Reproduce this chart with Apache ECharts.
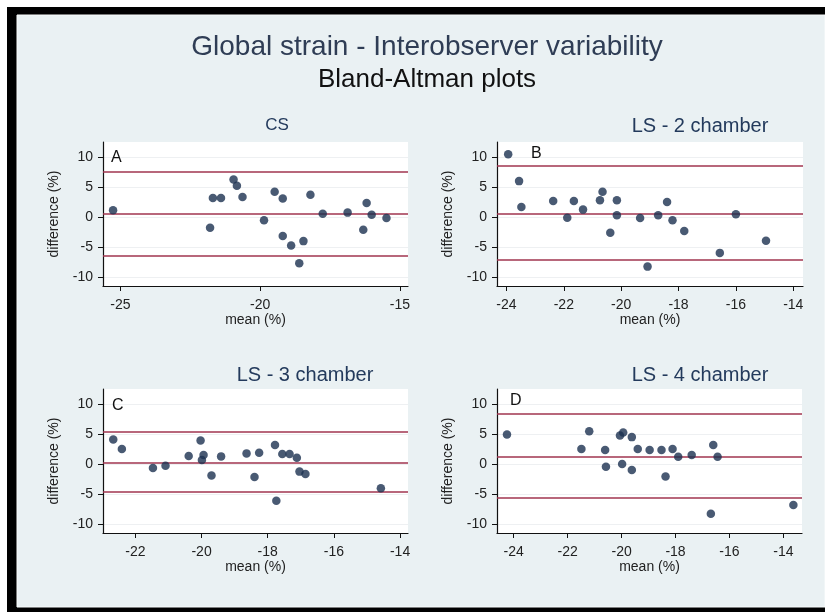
<!DOCTYPE html>
<html>
<head>
<meta charset="utf-8">
<script src="https://cdn.jsdelivr.net/npm/echarts@6/dist/echarts.min.js"></script>
<style>html,body{margin:0;padding:0;background:#fff}#c{width:825px;height:612px}</style>
</head>
<body>
<div id="c"></div>
<script>
// ---- data ----
const panelTitles = ['CS', 'LS - 2 chamber', 'LS - 3 chamber', 'LS - 4 chamber'];
const panelLetters = ['A', 'B', 'C', 'D'];

const csX = [-25.26,-21.79,-21.69,-21.40,-20.95,-20.83,-20.63,-19.86,-19.48,-19.19,-19.19,-18.89,-18.60,-18.45,-18.20,-17.76,-16.87,-16.31,-16.19,-16.01,-15.48];
const csY = [1.12,-1.79,3.18,3.18,6.26,5.2,3.35,-0.56,4.19,3.07,-3.18,-4.75,-7.71,-4.02,3.69,0.56,0.73,-2.12,2.35,0.39,-0.17];
const csLimits = [7.5, 0.55, -6.4];

const ls2X = [-23.94,-23.56,-23.48,-22.37,-21.88,-21.65,-21.33,-20.74,-20.65,-20.38,-20.15,-20.15,-19.34,-19.08,-18.71,-18.40,-18.21,-17.80,-16.56,-16.0,-14.95];
const ls2Y = [10.45,5.98,1.68,2.68,-0.11,2.68,1.23,2.79,4.19,-2.63,2.79,0.28,-0.17,-8.27,0.28,2.51,-0.56,-2.35,-5.98,0.45,-3.97];
const ls2Limits = [8.55, 0.56, -7.2];

const ls3X = [-22.67,-22.41,-21.47,-21.09,-20.39,-20.03,-19.99,-19.94,-19.70,-19.41,-18.64,-18.40,-18.26,-17.78,-17.74,-17.56,-17.34,-17.12,-17.04,-16.86,-14.58];
const ls3Y = [4.09,2.49,-0.66,-0.28,1.33,3.92,0.66,1.49,-1.93,1.27,1.77,-2.15,1.88,3.15,-6.13,1.66,1.66,1.05,-1.27,-1.66,-4.03];
const ls3Limits = [5.41, 0.22, -4.7];

const ls4X = [-24.25,-21.49,-21.20,-20.61,-20.58,-20.06,-19.94,-19.98,-19.62,-19.62,-19.40,-18.96,-18.52,-18.37,-18.11,-17.90,-17.40,-16.69,-16.60,-16.44,-13.63];
const ls4Y = [4.92,2.49,5.47,2.32,-0.44,4.75,5.25,0,4.48,-0.99,2.49,2.32,2.32,-2.10,2.49,1.22,1.49,-8.29,3.15,1.22,-6.85];
const ls4Limits = [8.4, 1.22, -5.58];

const yTicks = [-10, -5, 0, 5, 10];
const xTicksA = [-25, -20, -15];
const xTicksB = [-24, -22, -20, -18, -16, -14];
const xTicksC = [-22, -20, -18, -16, -14];
const xTicksD = [-24, -22, -20, -18, -16, -14];

const xRanges = [[-25.62, -14.71], [-24.33, -13.66], [-22.98, -13.76], [-24.62, -13.31]];
const yRange = [-11.5, 12.5];

// ---- layout / style ----
const FONT = "'Liberation Sans', Arial, sans-serif";
const grids = [
  {left: 103, top: 142, width: 305, height: 144},
  {left: 497, top: 142, width: 306, height: 144},
  {left: 103, top: 389, width: 305, height: 144},
  {left: 497, top: 389, width: 305, height: 144}
];
const titlePos = [[272, 112], [695, 111], [300, 360], [695, 360]];
const titleSizes = [17, 20, 20, 20];
const letterPos = [[111, 150], [531, 146], [112, 398], [510, 393]];

const panels = [
  {x: csX, y: csY, lim: csLimits, ticks: xTicksA},
  {x: ls2X, y: ls2Y, lim: ls2Limits, ticks: xTicksB},
  {x: ls3X, y: ls3Y, lim: ls3Limits, ticks: xTicksC},
  {x: ls4X, y: ls4Y, lim: ls4Limits, ticks: xTicksD}
];

const axisLine = {show: true, onZero: false, lineStyle: {color: '#111', width: 1.2}};
const axisTick = (vals) => ({show: true, length: 5, customValues: vals, lineStyle: {color: '#111'}});

const option = {
  backgroundColor: '#ffffff',
  animation: false,
  textStyle: {fontFamily: FONT},
  graphic: [
    {type: 'rect', z: -10, shape: {x: 7, y: 7, width: 818, height: 605}, style: {fill: '#000'}},
    {type: 'rect', z: -9, shape: {x: 17, y: 15, width: 808, height: 592}, style: {fill: '#eaf1f3', stroke: '#f8fbfb', lineWidth: 1}}
  ].concat(panelLetters.map((t, i) => ({
    type: 'text', z: 10, left: letterPos[i][0], top: letterPos[i][1],
    style: {text: t, font: '16px ' + FONT, fill: '#111'}
  }))),
  title: [
    {text: 'Global strain - Interobserver variability', left: 422, textAlign: 'center', top: 28,
     textStyle: {fontSize: 28, fontWeight: 'normal', color: '#2f3d55', fontFamily: FONT}},
    {text: 'Bland-Altman plots', left: 422, textAlign: 'center', top: 62,
     textStyle: {fontSize: 26, fontWeight: 'normal', color: '#111', fontFamily: FONT}}
  ].concat(panelTitles.map((t, i) => ({
    text: t, left: titlePos[i][0], top: titlePos[i][1], textAlign: 'center',
    textStyle: {fontSize: titleSizes[i], fontWeight: 'normal', color: '#233a5c', fontFamily: FONT}
  }))),
  grid: grids.map(g => Object.assign({show: true, backgroundColor: '#ffffff', borderWidth: 0, containLabel: false}, g)),
  xAxis: panels.map((p, i) => ({
    type: 'value', gridIndex: i, min: xRanges[i][0], max: xRanges[i][1],
    name: 'mean (%)', nameLocation: 'middle', nameGap: 25,
    nameTextStyle: {fontSize: 14, color: '#222', fontFamily: FONT},
    axisLine: axisLine, axisTick: axisTick(p.ticks),
    axisLabel: {customValues: p.ticks, fontSize: 14, color: '#222', margin: 12, fontFamily: FONT},
    splitLine: {show: false}
  })),
  yAxis: panels.map((p, i) => ({
    type: 'value', gridIndex: i, min: yRange[0], max: yRange[1],
    name: 'difference (%)', nameLocation: 'middle', nameGap: 42,
    nameTextStyle: {fontSize: 14, color: '#222', fontFamily: FONT},
    axisLine: axisLine, axisTick: axisTick(yTicks),
    axisLabel: {customValues: yTicks, fontSize: 14, color: '#222', margin: 10, fontFamily: FONT},
    splitLine: {show: true, lineStyle: {color: '#eef0f2', width: 1}}
  })),
  series: panels.map((p, i) => ({
    type: 'scatter', xAxisIndex: i, yAxisIndex: i,
    data: p.x.map((v, k) => [v, p.y[k]]),
    symbol: 'circle', symbolSize: 8.5, z: 5,
    itemStyle: {color: '#1b3150'},
    markLine: {
      silent: true, symbol: 'none', z: 3,
      label: {show: false},
      lineStyle: {color: '#a1344f', width: 1.6, type: 'solid'},
      data: p.lim.map(v => ({yAxis: v}))
    }
  }))
};

const chart = echarts.init(document.getElementById('c'), null, {renderer: 'canvas'});
chart.setOption(option);
</script>
</body>
</html>
